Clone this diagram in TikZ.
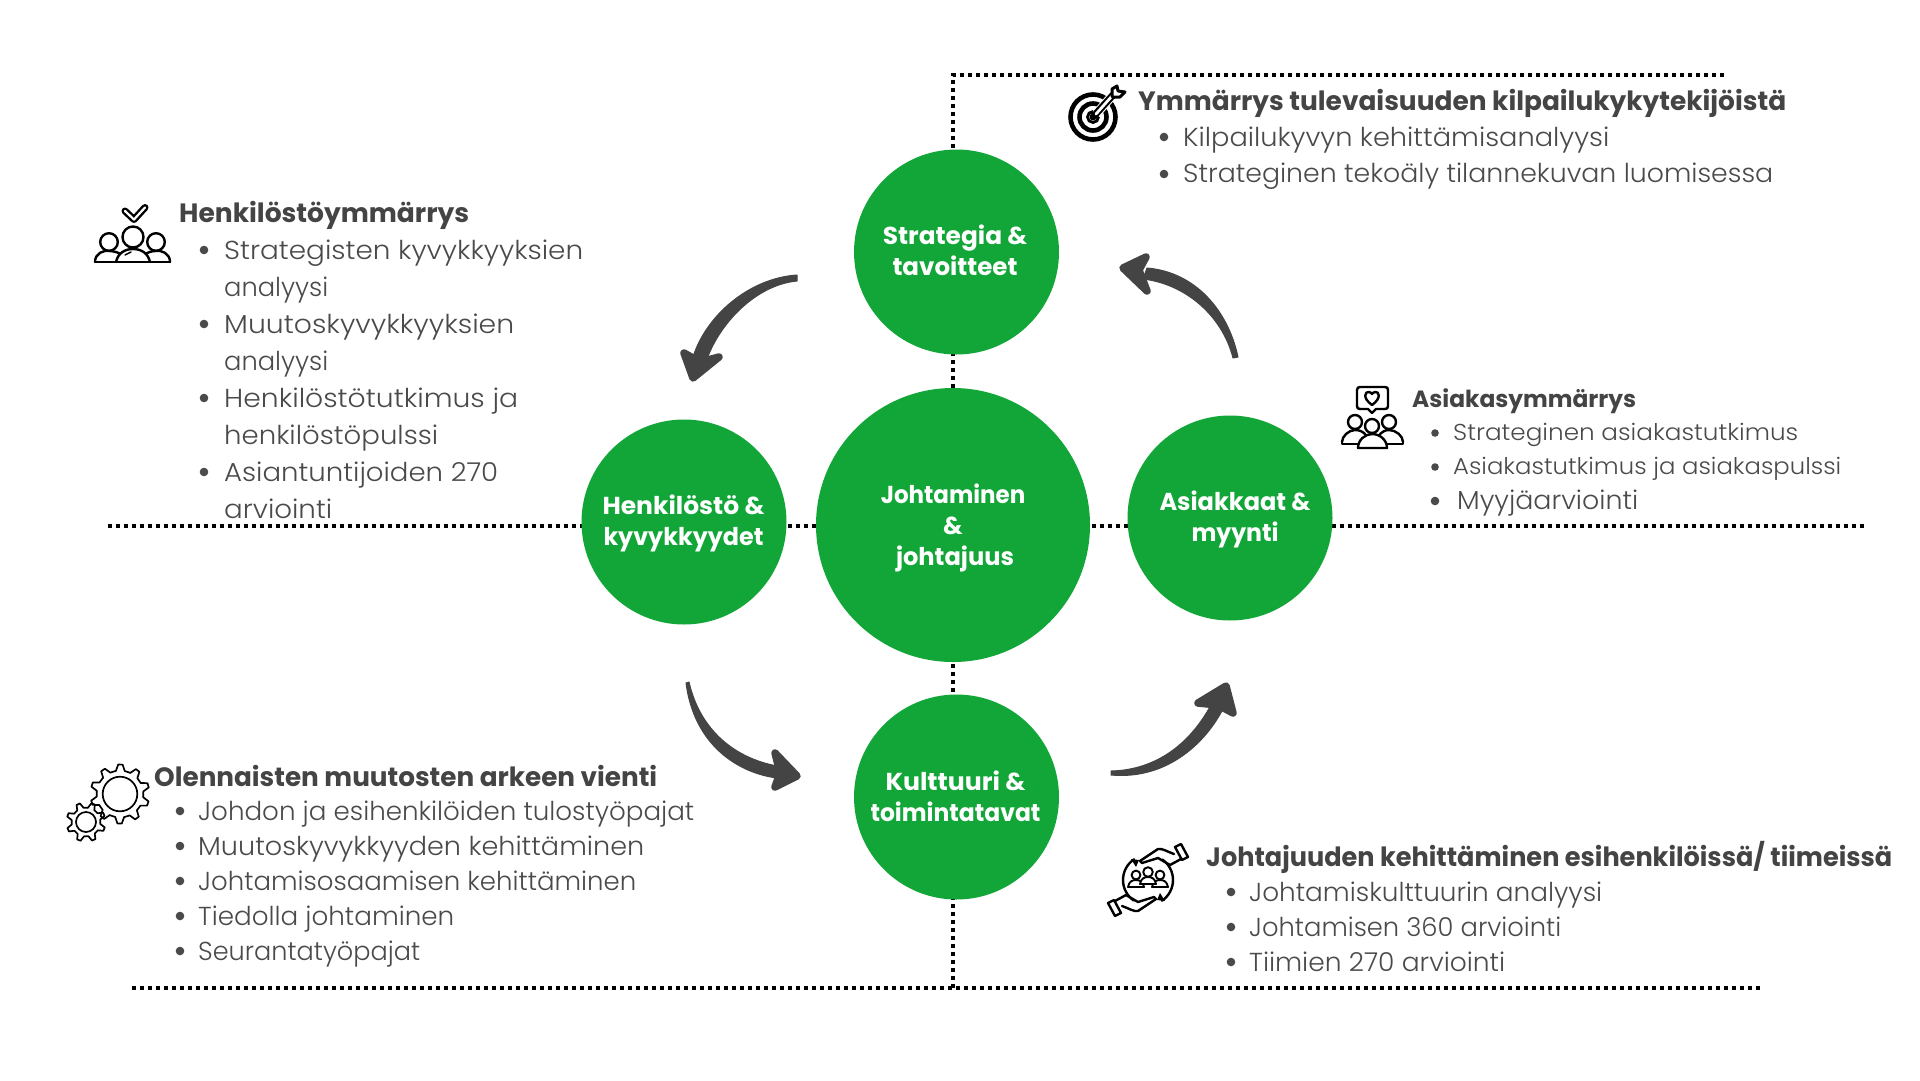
\documentclass[tikz,border=0pt]{standalone}
\usepackage{graphicx}
\usepackage{fontspec}
\setmainfont{Poppins}
\newfontfamily\lightf{Poppins Light}
\definecolor{grn}{HTML}{12A638}
\definecolor{txt}{HTML}{444444}
\definecolor{bodyc}{HTML}{4A4A4A}
\tikzset{
  disc/.style={circle,fill=grn,minimum size=#1,inner sep=0pt},
  dotline/.style={line width=4pt,black,dash pattern=on 4pt off 4pt},
  head/.style={anchor=base west,inner sep=0pt,text=txt,font=\fontsize{#1}{#1}\selectfont\bfseries},
  body/.style={anchor=base west,inner sep=0pt,text=bodyc,font=\fontsize{#1}{#1}\selectfont\lightf},
  lab/.style={align=center,text=white,inner sep=0pt,font=\fontsize{24.5}{31}\selectfont\bfseries},
  flow/.style={fill=txt,draw=txt,line width=1pt,line join=round},
  tipshape/.style={fill=txt,draw=txt,line width=7.5pt,line join=round},
  icon/.style={line width=2.4pt,black,line join=round,line cap=round},
  dotb/.style={fill=bodyc,draw=none}
}
\newcommand{\bodyline}[6]{\node[body=#1] (#2) at (#3,#4) {\resizebox{#6pt}{\height}{#5}};}
\newcommand{\headline}[6]{\node[head=#1] (#2) at (#3,#4) {\resizebox{#6pt}{\height}{#5}};}
\newcommand{\bul}[3]{\fill[dotb] (#1,#2) circle[radius=#3];}
\newcommand{\fitw}[2]{\resizebox{#1pt}{\height}{#2}}
\newcommand{\gearicon}[5]{% cx cy tip root teeth
  \begin{scope}[shift={(#1,#2)},icon,line width=1.7pt]
    \pgfmathsetmacro{\stepa}{360/#5}
    \foreach \n in {1,...,#5}{
      \pgfmathsetmacro{\a}{\n*\stepa+8}
      \draw ({\a}:#4) -- ({\a+.18*\stepa}:#3) -- ({\a+.42*\stepa}:#3) -- ({\a+.6*\stepa}:#4) -- ({\a+\stepa}:#4);
    }
  \end{scope}}
\begin{document}
\begin{tikzpicture}[x=1pt,y=-1pt]
\useasboundingbox (0,0) rectangle (1920,1080);
\fill[white] (0,0) rectangle (1920,1080);

% frame coordinates
\coordinate (hl) at (108,526);
\coordinate (hr) at (1867,526);
\coordinate (vt) at (953,75);
\coordinate (vb) at (953,988);
\coordinate (tr) at (1724,75);
\coordinate (bl) at (132,988);
\coordinate (br) at (1761,988);
\draw[dotline] (hl) -- (hr);
\draw[dotline] (tr) -- (vt) -- (vb);
\draw[dotline] (bl) -- (br);

% circles
\node[disc=205pt] (st) at (956.5,252) {};
\node[disc=274pt] (jo) at (953,525) {};
\node[disc=205pt] (he) at (684,522) {};
\node[disc=205pt] (as) at (1230,518) {};
\node[disc=205pt] (ku) at (956.5,797) {};
\node[lab] (stl) at (955,250) {\fitw{144.5}{Strategia \&}\\\fitw{125}{tavoitteet}};
\node[lab] (jol) at (953,528) {\fitw{144.5}{Johtaminen}\\\&\\\hspace{4pt}\fitw{118}{johtajuus}};
\node[lab] (hel) at (683.5,523) {\fitw{162}{Henkilöstö \&}\\\fitw{160}{kyvykkyydet}};
\node[lab] (asl) at (1235,519) {\fitw{151}{Asiakkaat \&}\\\fitw{87}{myynti}};
\node[lab] (kul) at (955.5,796) {\fitw{140}{Kulttuuri \&}\\\fitw{170}{toimintatavat}};

% arrows
\coordinate (a1s) at (797,275);
\coordinate (a1t) at (693,378);
\draw[flow] (a1s) .. controls (750,278) and (705,315) .. (692,360) -- (706,362) .. controls (718,325) and (755,285) .. (797,281) -- cycle;
\draw[tipshape] (684,353) -- (a1t) -- (719,357) -- (700,362) -- cycle;
\coordinate (a2s) at (1238,357);
\coordinate (a2t) at (1123,268);
\draw[flow] (a2s) .. controls (1228,310) and (1195,272) .. (1147,268) -- (1143,279) .. controls (1185,284) and (1222,315) .. (1233,358) -- cycle;
\draw[tipshape] (1146,257) -- (a2t) -- (1147,291) -- (1139,270) -- cycle;
\coordinate (a3s) at (689,682);
\coordinate (a3t) at (797,776);
\draw[flow] (a3s) .. controls (700,730) and (735,760) .. (783,767) -- (777,778) .. controls (738,773) and (694,745) .. (686,683) -- cycle;
\draw[tipshape] (775,753) -- (a3t) -- (775,787) -- (780,773) -- cycle;
\coordinate (a4s) at (1111,771);
\coordinate (a4t) at (1226,686);
\draw[flow] (a4s) .. controls (1155,770) and (1190,745) .. (1212,703) -- (1224,707) .. controls (1205,745) and (1165,780) .. (1111,775) -- cycle;
\draw[tipshape] (1198,703) -- (a4t) -- (1233,713) -- (1218,705) -- cycle;

% Top right text
\headline{26.5}{t0}{1138}{110}{Ymmärrys tulevaisuuden kilpailukykytekijöistä}{648}
\bul{1164}{137}{4.3}\bodyline{26}{t1}{1183}{146}{Kilpailukyvyn kehittämisanalyysi}{426}
\bul{1164}{174}{4.3}\bodyline{26}{t2}{1183}{182}{Strateginen tekoäly tilannekuvan luomisessa}{590}

% Left text
\headline{26.5}{l0}{179}{222}{Henkilöstöymmärrys}{290}
\bul{204}{250}{4.3}\bodyline{26}{l1}{224}{259}{Strategisten kyvykkyyksien}{359}
\bodyline{26}{l2}{224}{296}{analyysi}{104}
\bul{204}{324}{4.3}\bodyline{26}{l3}{224}{333}{Muutoskyvykkyyksien}{290}
\bodyline{26}{l4}{224}{370}{analyysi}{104}
\bul{204}{398}{4.3}\bodyline{26}{l5}{224}{407}{Henkilöstötutkimus ja}{294}
\bodyline{26}{l6}{224}{444}{henkilöstöpulssi}{214}
\bul{204}{472}{4.3}\bodyline{26}{l7}{224}{481}{Asiantuntijoiden 270}{274}
\bodyline{26}{l8}{224}{518}{arviointi}{108}

% Right text
\headline{23.5}{r0}{1412}{407}{Asiakasymmärrys}{224}
\bul{1435}{433}{3.8}\bodyline{23}{r1}{1453}{440}{Strateginen asiakastutkimus}{345}
\bul{1435}{467}{3.8}\bodyline{23}{r2}{1453}{474}{Asiakastutkimus ja asiakaspulssi}{388}
\bul{1435}{501}{4.3}\bodyline{26}{r3}{1457}{509}{Myyjäarviointi}{181}

% Lower left text
\headline{26.5}{b0}{154}{786}{Olennaisten muutosten arkeen vienti}{503}
\bul{180}{811}{4.3}\bodyline{26}{b1}{198}{820}{Johdon ja esihenkilöiden tulostyöpajat}{496}
\bul{180}{846}{4.3}\bodyline{26}{b2}{198}{855}{Muutoskyvykkyyden kehittäminen}{446}
\bul{180}{881}{4.3}\bodyline{26}{b3}{198}{890}{Johtamisosaamisen kehittäminen}{438}
\bul{180}{916}{4.3}\bodyline{26}{b4}{198}{925}{Tiedolla johtaminen}{256}
\bul{180}{951}{4.3}\bodyline{26}{b5}{198}{960}{Seurantatyöpajat}{222}

% Lower right text
\headline{26.5}{c0}{1206}{866}{Johtajuuden kehittäminen esihenkilöissä/ tiimeissä}{686}
\bul{1231}{892}{4.3}\bodyline{26}{c1}{1249}{901}{Johtamiskulttuurin analyysi}{353}
\bul{1231}{927}{4.3}\bodyline{26}{c2}{1249}{936}{Johtamisen 360 arviointi}{312}
\bul{1231}{962}{4.3}\bodyline{26}{c3}{1249}{971}{Tiimien 270 arviointi}{256}

% target icon
\begin{scope}[shift={(1093,117)}]
  \draw[line width=4.6pt,black] (0,0) circle[radius=22.5];
  \draw[line width=4.6pt,black] (0,0) circle[radius=13.5];
  \draw[line width=2.8pt,black] (0,0) circle[radius=5.5];
  \draw[line width=9pt,white] (3,-3) -- (27,-30);
  \draw[line width=7pt,black,line cap=round] (0,0) -- (20,-22);
  \draw[line width=2.8pt,white,line cap=round] (3,-3) -- (19,-21);
  \draw[line width=3pt,black,line join=round,fill=white] (19,-21) -- (19,-28) -- (24,-31) -- (25,-26) -- (32,-25) -- (27,-20) -- (20,-20) -- cycle;
\end{scope}

% people with check
\begin{scope}[icon]
  \draw[line width=7pt] (125,211) -- (134,219.5) -- (145,207.5);
  \draw[white,line width=2.2pt] (125,211) -- (134,219.5) -- (145,207.5);
  \draw (109,242) circle[radius=8.8];
  \draw (156,242) circle[radius=8.8];
  \draw (95,262) .. controls (95,253) and (104,250) .. (109,251) .. controls (113,251) and (118,252) .. (122,255);
  \draw (170,262) .. controls (170,253) and (161,250) .. (156,251) .. controls (152,251) and (148,252) .. (144,255);
  \draw[fill=white] (133,237) circle[radius=10.5];
  \draw[fill=white] (116,262) .. controls (118,253) and (125,249) .. (133,249) .. controls (141,249) and (148,253) .. (150,262);
  \draw (95,262) -- (170,262);
  \draw[line width=1.4pt] (125,255) -- (131,252);
\end{scope}

% customers icon
\begin{scope}[icon]
  \draw (1360,387) -- (1385,387) .. controls (1387,387) and (1388,388) .. (1388,390) -- (1388,406) .. controls (1388,408) and (1387,409) .. (1385,409) -- (1376,409) -- (1372,413) -- (1368,409) -- (1360,409) .. controls (1358,409) and (1357,408) .. (1357,406) -- (1357,390) .. controls (1357,388) and (1358,387) .. (1360,387) -- cycle;
  \draw (1372,405) .. controls (1362,398) and (1365,391) .. (1369,392) .. controls (1371,392) and (1372,394) .. (1372,394) .. controls (1372,394) and (1373,392) .. (1375,392) .. controls (1379,391) and (1382,398) .. (1372,405) -- cycle;
  \draw (1355,422) circle[radius=7];
  \draw (1389,422) circle[radius=7];
  \draw[fill=white] (1342,442) .. controls (1342,436) and (1349,430) .. (1355,430) .. controls (1360,430) and (1363,432) .. (1365,434);
  \draw[fill=white] (1403,442) .. controls (1403,436) and (1396,430) .. (1389,430) .. controls (1385,430) and (1382,432) .. (1380,434);
  \draw (1342,442) -- (1342,444) -- (1359,444);
  \draw (1403,442) -- (1403,444) -- (1386,444);
  \draw[fill=white] (1372,426) circle[radius=7];
  \draw[fill=white] (1358,448) .. controls (1358,440) and (1365,434) .. (1372,434) .. controls (1380,434) and (1387,440) .. (1387,448) -- cycle;
\end{scope}

% gears icon
\gearicon{120}{794}{29.5}{23.5}{10}
\gearicon{86}{822}{19.5}{14.5}{8}
\draw[icon,line width=1.7pt] (120,794) circle[radius=17.3];
\draw[icon,line width=1.7pt] (86,822) circle[radius=10];

% hands icon
\begin{scope}[shift={(1148,880)},icon]
  \draw (-25,0) arc[start angle=180,end angle=236,radius=25];
  \draw (-25,0) arc[start angle=180,end angle=125,radius=25];
  \draw (25,0) arc[start angle=0,end angle=56,radius=25];
  \draw (25,0) arc[start angle=0,end angle=-55,radius=25];
  \fill[black] (-17,-21) -- (-9,-20) -- (-12,-13) -- cycle;
  \fill[black] (17,21) -- (9,20) -- (12,13) -- cycle;
  \foreach \r in {0,180}{
    \begin{scope}[rotate=\r]
      \draw (-8,-19) -- (10,-31) .. controls (14,-32) and (20,-28) .. (26,-26);
      \draw (-8,-19) -- (-6,-17) -- (10,-22) -- (22,-15) -- (33,-21);
      \draw[line width=2.4pt,fill=white] (27,-33) -- (33,-36) -- (40,-23) -- (34,-20) -- cycle;
    \end{scope}
  }
  \draw[line width=1.9pt] (0,-8) circle[radius=4.8];
  \draw[line width=1.9pt] (-12,-5) circle[radius=4.4];
  \draw[line width=1.9pt] (12,-5) circle[radius=4.4];
  \draw[line width=1.9pt,fill=white] (-20,7) .. controls (-19,1) and (-15,0) .. (-12,0) .. controls (-8,0) and (-5,2) .. (-4,7) -- cycle;
  \draw[line width=1.9pt,fill=white] (20,7) .. controls (19,1) and (15,0) .. (12,0) .. controls (8,0) and (5,2) .. (4,7) -- cycle;
  \draw[line width=1.9pt,fill=white] (-8,4) .. controls (-7,-2) and (-3,-3) .. (0,-3) .. controls (3,-3) and (7,-2) .. (8,4) -- cycle;
\end{scope}
\end{tikzpicture}
\end{document}
